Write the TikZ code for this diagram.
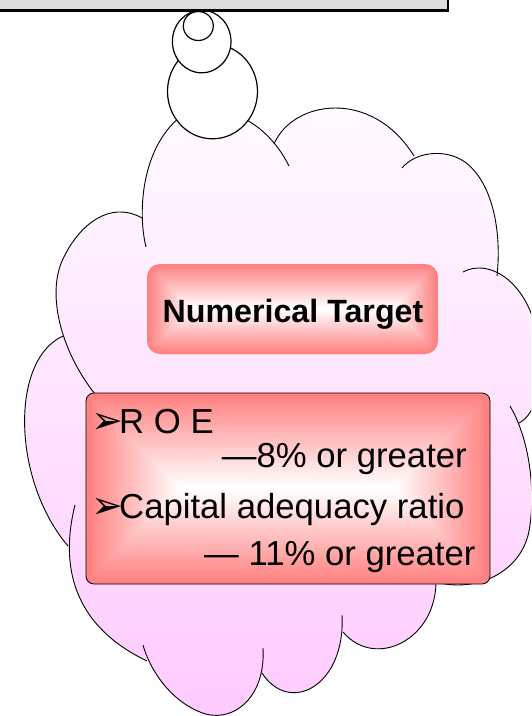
\documentclass[tikz,border=0pt]{standalone}
\usepackage{fontspec}
\setmainfont{Liberation Sans}
\newfontfamily\dingfont{DejaVu Sans}
\definecolor{panelGray}{RGB}{221, 221, 221}
\definecolor{cloudTop}{RGB}{255, 252, 255}
\definecolor{cloudBot}{RGB}{255, 202, 255}
\usepackage{tikz}
\usetikzlibrary{positioning, calc}
\newcommand{\arrowbullet}{\makebox[25.7pt][l]{\hspace{-2pt}\dingfont\fontsize{38}{38}\selectfont ➢}}
% rounded box, red rim fading into a white core
\newcommand{\glowbox}[6]{%
  \foreach \i in {0,...,#5} {
    \pgfmathsetmacro\ins{\i*(#4-#2)/2/(#5+1)}
    \pgfmathsetmacro\pct{50*(1-\i/#5)}
    \pgfmathsetmacro\rad{max(#6-\ins,0.5)}
    \fill[red!\pct, rounded corners=\rad pt] (#1+\ins,#2+\ins) rectangle (#3-\ins,#4-\ins);
  }}

\begin{document}
\begin{tikzpicture}[
    x=1pt, y=-1pt,
    bump/.style={draw=black, line width=0.9pt},
    bubble/.style={draw=black, fill=white, line width=1.2pt},
    topbar/.style={draw=black, fill=panelGray, line width=2.6pt},
    valueframe/.style={rectangle, draw=black, line width=0.8pt, rounded corners=8pt,
                       minimum width=404pt, minimum height=191pt, inner sep=0pt},
    headtext/.style={font=\fontsize{32.2}{38}\selectfont\bfseries, inner sep=0pt},
    itemtext/.style={font=\fontsize{34.7}{40}\selectfont, inner sep=0pt, anchor=base west},
  ]
    \useasboundingbox (0,0) rectangle (531,716);
    \clip (0,0) rectangle (531,716);

    % Cloud body
    \shade[top color=cloudTop, bottom color=cloudBot]
      (146,247) .. controls (138,215) and (140,150) .. (180,117)
                .. controls (210,100) and (262,112) .. (289,166)
      -- (274,144) .. controls (293,100) and (372,88) .. (414,156)
      -- (402,168) .. controls (415,152) and (445,148) .. (465,162)
                .. controls (492,182) and (502,230) .. (497,276)
      -- (463,272) .. controls (488,258) and (532,280) .. (540,350)
                .. controls (544,385) and (535,415) .. (519,423)
      -- (510,406) .. controls (530,440) and (535,490) .. (530,525)
                .. controls (525,570) and (480,592) .. (440,583)
      -- (436,578) .. controls (438,640) and (375,670) .. (343,632)
      -- (342,615) .. controls (346,685) and (290,716) .. (262,673)
      -- (263,648) .. controls (266,700) and (230,725) .. (200,712)
                .. controls (170,700) and (150,670) .. (143,645)
      -- (147,661) .. controls (72,625) and (60,565) .. (75,505)
      -- (68,546) .. controls (12,480) and (10,360) .. (63,336)
      -- (95,394) .. controls (60,350) and (45,290) .. (65,255)
                .. controls (80,225) and (110,200) .. (142,218)
      -- cycle;

    % Cloud outline, one bump at a time
    \draw[bump] (146,247) .. controls (138,215) and (140,150) .. (180,117)
                .. controls (210,100) and (262,112) .. (289,166);
    \draw[bump] (274,144) .. controls (293,100) and (372,88) .. (414,156);
    \draw[bump] (402,168) .. controls (415,152) and (445,148) .. (465,162)
                .. controls (492,182) and (502,230) .. (497,276);
    \draw[bump] (463,272) .. controls (488,258) and (532,280) .. (540,350)
                .. controls (544,385) and (535,415) .. (519,423);
    \draw[bump] (510,406) .. controls (530,440) and (535,490) .. (530,525)
                .. controls (525,570) and (480,592) .. (440,583);
    \draw[bump] (436,578) .. controls (438,640) and (375,670) .. (343,632);
    \draw[bump] (342,615) .. controls (346,685) and (290,716) .. (262,673);
    \draw[bump] (263,648) .. controls (266,700) and (230,725) .. (200,712)
                .. controls (170,700) and (150,670) .. (143,645);
    \draw[bump] (147,661) .. controls (72,625) and (60,565) .. (75,505);
    \draw[bump] (68,546) .. controls (12,480) and (10,360) .. (63,336);
    \draw[bump] (95,394) .. controls (60,350) and (45,290) .. (65,255)
                .. controls (80,225) and (110,200) .. (142,218);

    % Thought bubbles up to the bar
    \draw[bubble] (212.5,91.4) ellipse [x radius=45pt, y radius=47.4pt];
    \draw[bubble] (201.7,41.5) ellipse [x radius=29.3pt, y radius=31.3pt];
    \draw[bubble] (198.3,26) ellipse [x radius=15pt, y radius=14.5pt];
    \draw[topbar] (-10,-10) rectangle (447.8,10.5);

    % Heading box
    \glowbox{147}{264}{438}{354}{30}{13}
    \node[headtext, anchor=base] (head) at (293,322) {Numerical Target};

    % Target values box
    \glowbox{86}{393}{490}{584}{48}{8}
    \node[valueframe] (values) at (288,488.5) {};
    \node[itemtext] (roe) at (93.3,433.3) {\arrowbullet R O E};
    \node[itemtext] (roeval) at (221.7,467.3) {—8\% or greater};
    \node[itemtext] (car) at (93.3,518.3) {\arrowbullet Capital adequacy ratio};
    \node[itemtext] (carval) at (204,565) {— 11\% or greater};
\end{tikzpicture}
\end{document}
